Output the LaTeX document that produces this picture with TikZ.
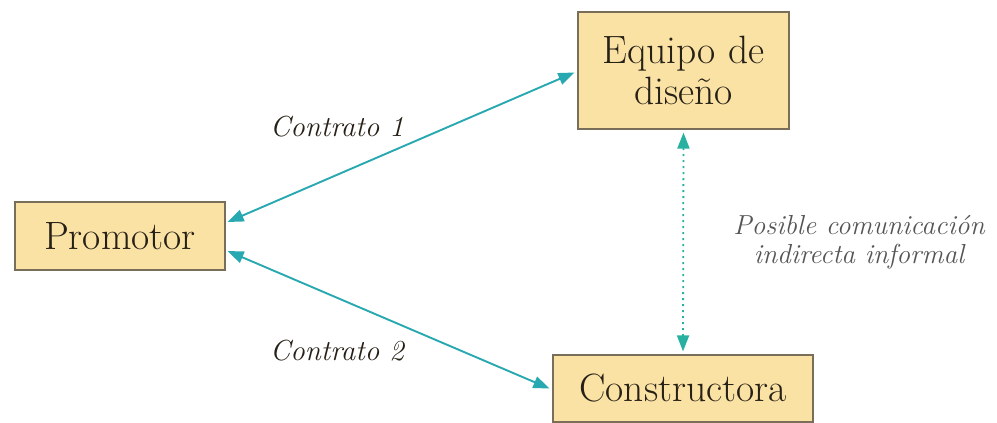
\documentclass[tikz,border=0pt]{standalone}
\usepackage{fontspec}
\usetikzlibrary{arrows.meta}
\definecolor{boxfill}{RGB}{250,226,165}
\definecolor{boxdraw}{RGB}{120,110,90}
\definecolor{txt}{RGB}{38,32,22}
\definecolor{teal1}{RGB}{40,168,176}
\definecolor{teal2}{RGB}{40,176,160}
\definecolor{graytxt}{RGB}{85,85,85}
\begin{document}
\begin{tikzpicture}[x=1pt,y=-1pt,
  entity/.style={draw=boxdraw, line width=1.2pt, fill=boxfill, inner sep=0pt,
    text=txt, align=center, font=\fontsize{39.5}{41}\selectfont},
  conn/.style={teal1, line width=1.9pt, {Triangle[length=16pt,width=12pt]}-{Triangle[length=16pt,width=12pt]}},
  informal/.style={teal2, line width=1.8pt, dash pattern=on 2pt off 4pt,
    {Triangle[length=16pt,width=12pt]}-{Triangle[length=16pt,width=12pt]}},
  lbl/.style={text=txt, font=\fontsize{29}{32}\selectfont\itshape},
  note/.style={text=graytxt, align=center, font=\fontsize{27.5}{29}\selectfont\itshape}]
\useasboundingbox (0,0) rectangle (997,423);
\node[entity, minimum width=210pt, minimum height=68pt] (prom) at (120,236) {Promotor};
\node[entity, minimum width=211pt, minimum height=117pt] (eq) at (683.5,70.5) {Equipo de\\dise\~no};
\node[entity, minimum width=260pt, minimum height=67pt] (cons) at (683,388.5) {Constructora};
\draw[conn] ([yshift=14pt,xshift=2pt]prom.east) -- ([yshift=-2pt,xshift=-3pt]eq.west);
\draw[conn] ([yshift=-15pt,xshift=2pt]prom.east) -- ([xshift=-3pt]cons.west);
\draw[informal] ([yshift=-3pt]eq.south) -- ([yshift=3pt]cons.north);
\node[lbl] (c1) at (337,127) {Contrato \oldstylenums{1}};
\node[lbl] (c2) at (337,351) {Contrato \oldstylenums{2}};
\node[note] (n) at (859,242) {Posible comunicaci\'on\\indirecta informal};
\end{tikzpicture}
\end{document}
